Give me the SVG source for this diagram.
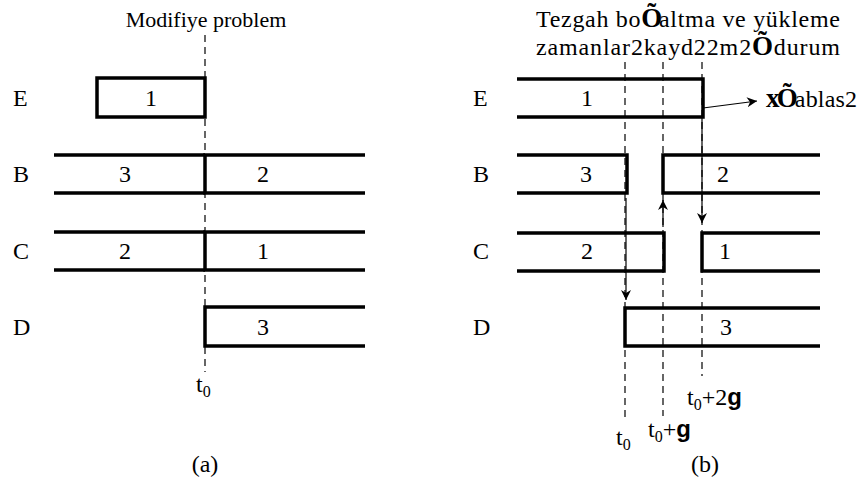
<svg xmlns="http://www.w3.org/2000/svg" width="860" height="484" viewBox="0 0 860 484">
<style>
text{font-family:"Liberation Serif","Times New Roman",serif;font-size:24px;fill:#000}
.c{text-anchor:middle}
.title{font-size:22px}
.box{fill:none;stroke:#000;stroke-width:3.5}
.dash{stroke:#000;stroke-width:1.2;stroke-dasharray:7,5;fill:none}
.arr{stroke:#000;stroke-width:1.2;fill:none;marker-end:url(#ah)}
.sub{font-size:16px}
.g{font-family:"Liberation Sans",Arial,sans-serif;font-weight:bold}
.bold{font-weight:bold;font-size:27px}
</style>
<defs>
<marker id="ah" markerWidth="10" markerHeight="10" viewBox="0 0 10 10" refX="10" refY="5" orient="auto" markerUnits="userSpaceOnUse">
<path d="M0,0 L10,5 L0,10 L3,5 Z" fill="#000"/>
</marker>
</defs>
<rect width="860" height="484" fill="#fff"/>
<!-- Part (a) -->
<text class="c title" x="206" y="27">Modifiye problem</text>
<text x="13" y="106">E</text>
<text x="13" y="182">B</text>
<text x="13" y="259">C</text>
<text x="13" y="335">D</text>
<g id="a-E1"><path class="box" d="M97,78 H205 V117 H97 Z"/><text class="c" x="151" y="106">1</text></g>
<g id="a-B3"><path class="box" d="M54,155 H205 M54,193 H205"/><text class="c" x="125" y="182">3</text></g>
<g id="a-B2"><path class="box" d="M365,155 H205 V193 H365"/><text class="c" x="263" y="182">2</text></g>
<g id="a-C2"><path class="box" d="M54,232 H205 M54,270 H205"/><text class="c" x="125" y="259">2</text></g>
<g id="a-C1"><path class="box" d="M365,232 H205 V270 H365"/><text class="c" x="263" y="259">1</text></g>
<g id="a-D3"><path class="box" d="M365,307 H205 V346 H365"/><text class="c" x="263" y="335">3</text></g>
<g id="a-t0"><line class="dash" x1="205" y1="35" x2="205" y2="372"/><text x="196" y="392">t<tspan class="sub" dy="5">0</tspan></text></g>
<text class="c" x="205" y="472">(a)</text>
<!-- Part (b) -->
<text x="536" y="27" textLength="304" lengthAdjust="spacing">Tezgah bo<tspan class="bold">Õ</tspan><tspan dx="-4">altma ve yükleme</tspan></text>
<text x="536" y="55" textLength="304" lengthAdjust="spacing">zamanlar2kayd22m2<tspan class="bold">Õ</tspan>durum</text>
<text x="473" y="106">E</text>
<text x="473" y="182">B</text>
<text x="473" y="259">C</text>
<text x="473" y="335">D</text>
<g id="b-E1"><path class="box" d="M517,79 H703 V117 H517"/><text class="c" x="587" y="106">1</text></g>
<g id="b-B3"><path class="box" d="M517,155 H627 V193 H517"/><text class="c" x="586" y="182">3</text></g>
<g id="b-B2"><path class="box" d="M820,155 H663 V193 H820"/><text class="c" x="723" y="182">2</text></g>
<g id="b-C2"><path class="box" d="M517,233 H664 V271 H517"/><text class="c" x="587" y="259">2</text></g>
<g id="b-C1"><path class="box" d="M820,233 H702 V271 H820"/><text class="c" x="725" y="259">1</text></g>
<g id="b-D3"><path class="box" d="M820,308 H625 V346 H820"/><text class="c" x="726" y="335">3</text></g>
<g id="b-times">
<line class="dash" x1="625" y1="62" x2="625" y2="420"/>
<line class="dash" x1="663" y1="62" x2="663" y2="416"/>
<line class="dash" x1="702" y1="62" x2="702" y2="376"/>
<text x="616" y="445">t<tspan class="sub" dy="5">0</tspan></text>
<text x="648" y="437">t<tspan class="sub" dy="5">0</tspan><tspan dy="-5">+</tspan><tspan class="g">g</tspan></text>
<text x="687" y="405">t<tspan class="sub" dy="5">0</tspan><tspan dy="-5">+2</tspan><tspan class="g">g</tspan></text>
</g>
<g id="b-exit"><text x="766" y="107" textLength="91" lengthAdjust="spacing"><tspan class="bold">x</tspan><tspan class="bold" dx="-3">Õ</tspan><tspan dx="-3">ablas2</tspan></text></g>
<g id="connectors">
<line class="arr" x1="626" y1="198" x2="626" y2="300"/>
<line class="arr" x1="663" y1="227" x2="663" y2="200"/>
<line class="arr" x1="702" y1="117" x2="702" y2="223"/>
<line class="arr" x1="703" y1="108" x2="757" y2="101"/>
</g>
<text class="c" x="705" y="472">(b)</text>
</svg>
